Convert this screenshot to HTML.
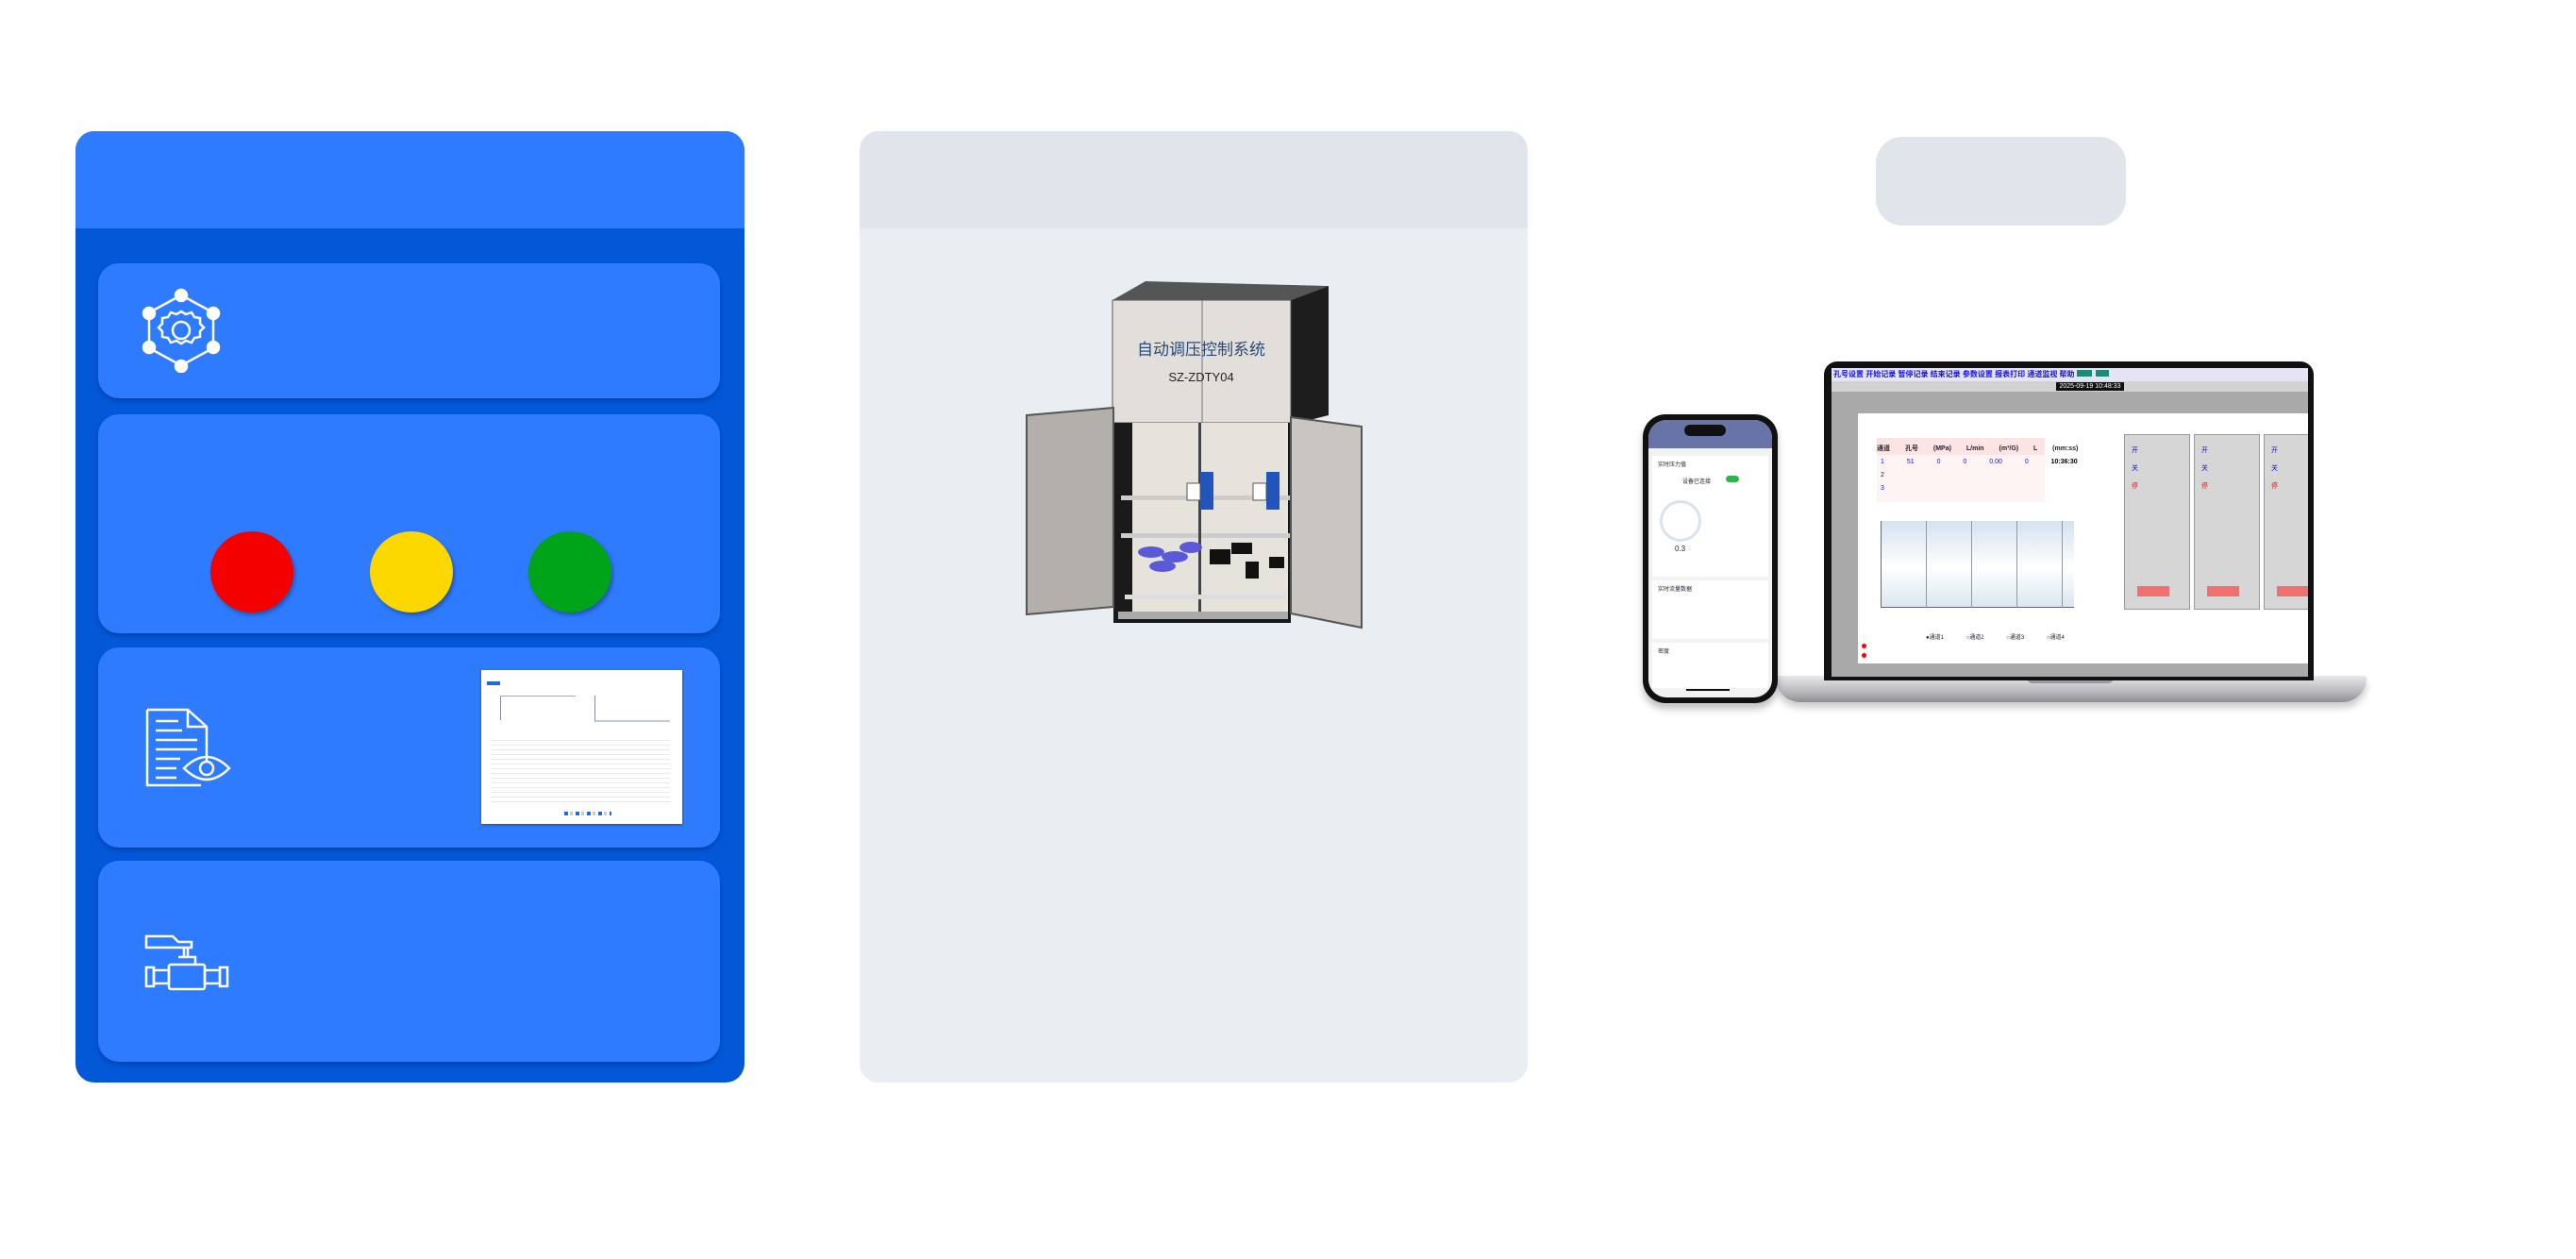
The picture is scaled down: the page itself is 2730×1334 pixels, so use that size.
<!DOCTYPE html>
<html><head><meta charset="utf-8">
<style>
*{margin:0;padding:0;box-sizing:border-box}
body{width:2730px;height:1334px;background:#fff;position:relative;overflow:hidden;font-family:"Liberation Sans","Noto Sans CJK SC",sans-serif}
.abs{position:absolute}
.card{position:absolute;left:104px;width:659px;background:#2f7bff;border-radius:22px;box-shadow:0 3px 4px rgba(0,30,100,.35)}
.dot{position:absolute;width:88px;height:86px;border-radius:50%;box-shadow:2px 3px 4px rgba(0,0,0,.3)}
.t{font-size:9px;color:#223;position:absolute;white-space:nowrap}
</style></head><body>

<div class="abs" style="left:80px;top:139px;width:709px;height:1008px;background:#0358d8;border-radius:20px;overflow:hidden">
  <div style="height:103px;background:#2f7bff"></div>
</div>
<div class="card" style="top:279px;height:143px"></div>
<div class="card" style="top:439px;height:232px"></div>
<div class="card" style="top:686px;height:212px"></div>
<div class="card" style="top:912px;height:213px"></div>

<svg class="abs" style="left:150px;top:305px" width="85" height="90" viewBox="0 0 85 90" fill="none" stroke="#fff" stroke-width="2.5">
  <circle cx="42" cy="8" r="6" fill="#fff"/><circle cx="8" cy="27" r="6" fill="#fff"/><circle cx="76" cy="27" r="6" fill="#fff"/>
  <circle cx="8" cy="63" r="6" fill="#fff"/><circle cx="76" cy="63" r="6" fill="#fff"/><circle cx="42" cy="83" r="6" fill="#fff"/>
  <path d="M48 11 L70 23 M36 11 L14 23 M8 34 V56 M76 34 V56 M14 67 L36 79 M70 67 L48 79"/>
  <path d="M42 25 l5 3 6-2 3 5 6 1 0 6 4 4-4 4 0 6-6 1-3 5-6-2-5 3-5-3-6 2-3-5-6-1 0-6-4-4 4-4 0-6 6-1 3-5 6 2z"/>
  <circle cx="42" cy="45" r="9"/>
</svg>

<div class="dot" style="left:223px;top:563px;background:#f50000"></div>
<div class="dot" style="left:392px;top:563px;background:#fdd700"></div>
<div class="dot" style="left:560px;top:563px;background:#00a418"></div>

<svg class="abs" style="left:153px;top:750px" width="94" height="88" viewBox="0 0 94 88" fill="none" stroke="#fff" stroke-width="2.5">
  <path d="M3 2 H46 L66 20 V56 M3 2 V82 H60"/><path d="M46 2 V20 H66"/>
  <path d="M12 14 H36 M12 24 H40 M12 34 H56 M12 44 H56 M12 54 H38 M12 64 H34 M12 74 H34"/>
  <path d="M42 64 Q66 40 90 64 Q66 88 42 64 Z"/><circle cx="66" cy="64" r="7"/>
</svg>

<div class="abs" style="left:510px;top:710px;width:213px;height:163px;background:#fff;box-shadow:0 1px 3px rgba(0,0,0,.4)">
  <div class="abs" style="left:6px;top:12px;width:14px;height:4px;background:#1a6dd8"></div>
  <div class="abs" style="left:20px;top:27px;width:80px;height:26px;border-left:1px solid #88a;border-top:1px solid #aab"></div>
  <div class="abs" style="left:120px;top:27px;width:80px;height:28px;border-left:1px solid #88a;border-bottom:2px solid #bcd"></div>
  <div class="abs" style="left:10px;top:70px;width:190px;height:70px;background:repeating-linear-gradient(#fff 0 4px,#e8e8ee 4px 5px)"></div>
  <div class="abs" style="left:88px;top:150px;width:50px;height:4px;background:repeating-linear-gradient(90deg,#1a6dd8 0 4px,#fff 4px 6px,#ccc 6px 9px,#fff 9px 12px)"></div>
</div>

<svg class="abs" style="left:153px;top:990px" width="94" height="60" viewBox="0 0 94 60" fill="none" stroke="#fff" stroke-width="2.5">
  <path d="M2 2 H30 L36 8 H50 V14 H2 Z"/><path d="M42 14 V24 M46 14 V24 M36 24 H54 V32"/>
  <rect x="26" y="32" width="38" height="26" rx="2"/>
  <rect x="10" y="38" width="16" height="14"/><rect x="64" y="38" width="16" height="14"/>
  <rect x="2" y="35" width="8" height="20"/><rect x="80" y="35" width="8" height="20"/>
</svg>

<div class="abs" style="left:911px;top:139px;width:708px;height:1008px;background:#e9eef2;border-radius:20px;overflow:hidden">
  <div style="height:103px;background:#dfe5eb"></div>
</div>

<svg class="abs" style="left:1080px;top:290px" width="370" height="380" viewBox="1080 290 370 380">
  <polygon points="1179,318 1214,298 1408,303 1368,318" fill="#555"/>
  <polygon points="1368,318 1408,303 1408,440 1368,450" fill="#1d1d1d"/>
  <rect x="1179" y="318" width="189" height="130" fill="#e2dfda" stroke="#555"/>
  <line x1="1274" y1="318" x2="1274" y2="448" stroke="#777"/>
  <text x="1273" y="376" font-size="17" fill="#2a4a78" text-anchor="middle" font-family="Liberation Sans,Noto Sans CJK SC,sans-serif">自动调压控制系统</text>
  <text x="1273" y="404" font-size="13" fill="#222" text-anchor="middle" font-family="Liberation Sans,sans-serif">SZ-ZDTY04</text>
  <rect x="1180" y="448" width="188" height="212" fill="#1a1a1a"/>
  <rect x="1200" y="448" width="165" height="205" fill="#e6e2dc"/>
  <rect x="1188" y="525" width="180" height="5" fill="#ccc"/>
  <rect x="1188" y="565" width="180" height="5" fill="#ccc"/>
  <rect x="1270" y="448" width="3" height="200" fill="#444"/>
  <rect x="1272" y="500" width="14" height="40" fill="#2255bb"/><rect x="1342" y="500" width="14" height="40" fill="#2255bb"/>
  <rect x="1258" y="512" width="14" height="18" fill="#fff" stroke="#555"/><rect x="1328" y="512" width="14" height="18" fill="#fff" stroke="#555"/>
  <g fill="#5a5ad8"><ellipse cx="1220" cy="585" rx="14" ry="6"/><ellipse cx="1245" cy="590" rx="14" ry="6"/><ellipse cx="1262" cy="580" rx="12" ry="6"/><ellipse cx="1232" cy="600" rx="14" ry="6"/></g>
  <g fill="#111"><rect x="1282" y="582" width="22" height="16"/><rect x="1305" y="575" width="22" height="12"/><rect x="1320" y="595" width="14" height="18"/><rect x="1345" y="590" width="16" height="12"/></g>
  <rect x="1192" y="630" width="170" height="5" fill="#ddd"/>
  <rect x="1185" y="648" width="180" height="8" fill="#aaa"/>
  <polygon points="1088,440 1180,432 1180,643 1088,651" fill="#b3afab" stroke="#555" stroke-width="2"/>
  <polygon points="1368,442 1443,452 1443,665 1368,650" fill="#c9c5c0" stroke="#555" stroke-width="2"/>
</svg>

<div class="abs" style="left:1988px;top:145px;width:265px;height:94px;background:#dfe5eb;border-radius:28px"></div>

<div class="abs" style="left:1882px;top:716px;width:626px;height:28px;border-radius:4px 4px 40px 40px;background:linear-gradient(#e8e8ea,#b8b8bc 60%,#8f8f94);box-shadow:0 6px 8px rgba(0,0,0,.2)"></div>
<div class="abs" style="left:2148px;top:716px;width:92px;height:8px;background:#9a9aa0;border-radius:0 0 6px 6px"></div>
<div class="abs" style="left:1933px;top:383px;width:519px;height:338px;background:#111;border-radius:14px 14px 0 0"></div>
<div class="abs" style="left:1941px;top:390px;width:505px;height:327px;background:#a9a9a9;overflow:hidden">
  <div class="abs" style="left:0;top:0;width:505px;height:14px;background:#e4e4f4"></div>
  <div class="t" style="left:2px;top:1px;color:#1010ee;font-size:8px;font-weight:bold">孔号设置 开始记录 暂停记录 结束记录 参数设置 报表打印 通道监视 帮助</div>
  <div class="abs" style="left:260px;top:2px;width:16px;height:7px;background:#1a8a7a"></div>
  <div class="abs" style="left:280px;top:2px;width:14px;height:7px;background:#1a8a7a"></div>
  <div class="abs" style="left:0;top:14px;width:505px;height:11px;background:#d2d2d2"></div>
  <div class="abs" style="left:238px;top:15px;width:72px;height:9px;background:#111;color:#fff;font-size:7px;line-height:9px;text-align:center">2025-09-19 10:48:33</div>
  <div class="abs" style="left:28px;top:48px;width:477px;height:265px;background:#fff"></div>
  <div class="abs" style="left:48px;top:74px;width:178px;height:18px;background:#fde4e4"></div>
  <div class="abs" style="left:48px;top:92px;width:178px;height:50px;background:#fff4f4"></div>
  <div class="t" style="left:48px;top:80px;font-size:7px;font-weight:bold;word-spacing:14px">通道 孔号 (MPa) L/min (m³/G) L (mm:ss)</div>
  <div class="t" style="left:52px;top:96px;font-size:7px;color:#1010ee;word-spacing:22px">1 51 0 0 0.00 0 <b style="color:#000">10:36:30</b></div>
  <div class="t" style="left:52px;top:110px;font-size:7px">2</div>
  <div class="t" style="left:52px;top:124px;font-size:7px;color:#1010ee">3</div>
  <div class="abs" style="left:52px;top:162px;width:205px;height:92px;border-left:1px solid #666;border-bottom:1px solid #666;background:linear-gradient(#d6e2ee,#fff 55%,#dbe6f0);"></div>
  <div class="abs" style="left:100px;top:162px;width:1px;height:92px;background:#999"></div>
  <div class="abs" style="left:148px;top:162px;width:1px;height:92px;background:#999"></div>
  <div class="abs" style="left:196px;top:162px;width:1px;height:92px;background:#999"></div>
  <div class="abs" style="left:244px;top:162px;width:1px;height:92px;background:#999"></div>
  <div class="t" style="left:100px;top:280px;font-size:6px;word-spacing:22px">●通道1 ○通道2 ○通道3 ○通道4</div>
  <div class="abs" style="left:32px;top:292px;width:5px;height:5px;border-radius:50%;background:red"></div>
  <div class="abs" style="left:32px;top:302px;width:5px;height:5px;border-radius:50%;background:red"></div>
  <div class="abs" style="left:310px;top:70px;width:70px;height:186px;background:#d6d6d6;border:1px solid #999"></div>
  <div class="abs" style="left:384px;top:70px;width:70px;height:186px;background:#d6d6d6;border:1px solid #999"></div>
  <div class="abs" style="left:458px;top:70px;width:70px;height:186px;background:#d6d6d6;border:1px solid #999"></div>
  <div class="t" style="left:318px;top:78px;font-size:7px;color:#11c;line-height:19px">开<br>关<br><span style="color:red">停</span></div>
  <div class="t" style="left:392px;top:78px;font-size:7px;color:#11c;line-height:19px">开<br>关<br><span style="color:red">停</span></div>
  <div class="t" style="left:466px;top:78px;font-size:7px;color:#11c;line-height:19px">开<br>关<br><span style="color:red">停</span></div>
  <div class="abs" style="left:324px;top:231px;width:34px;height:11px;background:#f07070"></div>
  <div class="abs" style="left:398px;top:231px;width:34px;height:11px;background:#f07070"></div>
  <div class="abs" style="left:472px;top:231px;width:34px;height:11px;background:#f07070"></div>
</div>

<div class="abs" style="left:1741px;top:439px;width:143px;height:306px;background:#111;border-radius:24px;box-shadow:0 6px 8px rgba(0,0,0,.25)"></div>
<div class="abs" style="left:1747px;top:445px;width:131px;height:294px;background:#f2f2f3;border-radius:19px;overflow:hidden">
  <div class="abs" style="left:0;top:0;width:131px;height:30px;background:#6874a8"></div>
  <div class="abs" style="left:38px;top:5px;width:44px;height:12px;background:#111;border-radius:6px"></div>
  <div class="abs" style="left:4px;top:38px;width:123px;height:128px;background:#fff"></div>
  <div class="t" style="left:10px;top:42px;font-size:6px">实时压力值</div>
  <div class="t" style="left:36px;top:60px;font-size:6px">设备已连接</div>
  <div class="abs" style="left:82px;top:59px;width:14px;height:7px;border-radius:4px;background:#2fb34a"></div>
  <div class="abs" style="left:12px;top:85px;width:44px;height:44px;border-radius:50%;border:3px solid #d8e2f0;background:#fff"></div>
  <div class="t" style="left:28px;top:132px;font-size:8px">0.3</div>
  <div class="abs" style="left:4px;top:170px;width:123px;height:62px;background:#fff"></div>
  <div class="t" style="left:10px;top:174px;font-size:6px">实时流量数据</div>
  <div class="abs" style="left:4px;top:236px;width:123px;height:48px;background:#fff"></div>
  <div class="t" style="left:10px;top:240px;font-size:6px">密度</div>
  <div class="abs" style="left:40px;top:285px;width:46px;height:2px;background:#111"></div>
</div>

</body></html>
